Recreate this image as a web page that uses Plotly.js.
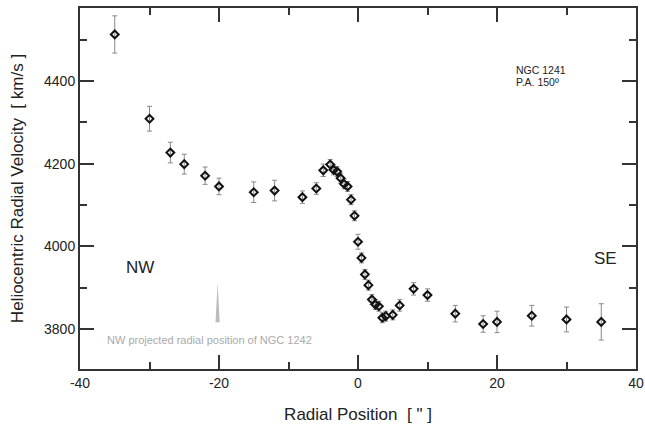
<!DOCTYPE html>
<html>
<head>
<meta charset="utf-8">
<script src="https://cdn.plot.ly/plotly-3.0.1.min.js"></script>
<style>html,body{margin:0;padding:0;background:#fff;}#chart{width:645px;height:433px;}</style>
</head>
<body>
<div id="chart"></div>
<script>
// Radial position (arcsec)
var radialPos = [-35, -30, -27, -25, -22, -20, -15, -12, -8, -6, -5, -4, -3.5, -3, -2.5, -2, -1.5, -1, -0.5, 0, 0.5, 1, 1.5, 2, 2.5, 3, 3.5, 4, 5, 6, 8, 10, 14, 18, 20, 25, 30, 35];
// Heliocentric radial velocity (km/s)
var velocity = [4513, 4309, 4227, 4199, 4171, 4145, 4131, 4135, 4119, 4140, 4184, 4198, 4185, 4181, 4165, 4151, 4145, 4113, 4074, 4011, 3972, 3932, 3906, 3871, 3859, 3855, 3827, 3831, 3834, 3857, 3897, 3882, 3837, 3812, 3817, 3832, 3823, 3817];
// Velocity errors (km/s)
var velErr = [45, 30, 25, 24, 21, 20, 25, 25, 15, 14, 15, 12, 12, 12, 12, 12, 12, 12, 12, 18, 12, 12, 12, 12, 12, 12, 12, 12, 12, 14, 15, 15, 20, 20, 26, 25, 30, 44];
// Tick labels
var xTickVals = [-40, -20, 0, 20, 40];
var xTickText = ['-40', '-20', '0', '20', '40'];
var xMinorVals = [-30, -10, 10, 30];
// NGC 1242 projected position marker
var ngc1242Pos = -20.2;
var ngc1242Spike = [3816, 3911];

var font = 'Liberation Sans, Arial, sans-serif';

var trace = {
  x: radialPos, y: velocity, type: 'scatter', mode: 'markers',
  marker: {symbol: 'diamond-open', size: 6, color: '#111', line: {width: 2, color: '#111'}},
  error_y: {type: 'data', array: velErr, visible: true, color: '#888', thickness: 1, width: 2.5},
  hoverinfo: 'x+y', showlegend: false
};

var layout = {
  width: 645, height: 433,
  margin: {l: 80, r: 9, t: 8, b: 64},
  paper_bgcolor: '#fff', plot_bgcolor: '#fff',
  font: {family: font, color: '#222'},
  xaxis: {
    range: [-40, 40], tickmode: 'array', tickvals: xTickVals, ticktext: xTickText,
    ticks: 'inside', ticklen: 14, tickwidth: 2, tickcolor: '#333',
    minor: {tickmode: 'array', tickvals: xMinorVals, ticks: 'inside', ticklen: 7, tickwidth: 2, tickcolor: '#333'},
    showline: true, linecolor: '#333', linewidth: 2, mirror: 'ticks',
    showgrid: false, zeroline: false,
    tickfont: {size: 14, family: font, color: '#222'},
    title: {text: 'Radial Position  [ " ]', font: {size: 17, family: font, color: '#222'}, standoff: 18}
  },
  yaxis: {
    range: [3703, 4577], dtick: 200, tick0: 0,
    ticks: 'inside', ticklen: 14, tickwidth: 2, tickcolor: '#333',
    minor: {dtick: 100, tick0: 0, ticks: 'inside', ticklen: 7, tickwidth: 2, tickcolor: '#333'},
    showline: true, linecolor: '#333', linewidth: 2, mirror: 'ticks',
    showgrid: false, zeroline: false,
    tickfont: {size: 14, family: font, color: '#222'},
    title: {text: 'Heliocentric Radial Velocity  [ km/s ]', font: {size: 17, family: font, color: '#222'}, standoff: 16}
  },
  shapes: [{
    type: 'path', xref: 'x', yref: 'y',
    path: 'M ' + (ngc1242Pos - 0.3) + ' ' + ngc1242Spike[0] + ' L ' + ngc1242Pos + ' ' + ngc1242Spike[1] + ' L ' + (ngc1242Pos + 0.3) + ' ' + ngc1242Spike[0] + ' Z',
    fillcolor: '#bbb', line: {width: 0}
  }],
  annotations: [
    {x: -31.4, y: 3948, xref: 'x', yref: 'y', text: 'NW', showarrow: false, font: {size: 17, family: font, color: '#222'}},
    {x: 35.6, y: 3970, xref: 'x', yref: 'y', text: 'SE', showarrow: false, font: {size: 17, family: font, color: '#222'}},
    {x: 22.5, y: 4426, xref: 'x', yref: 'y', xanchor: 'left', text: 'NGC 1241', showarrow: false, font: {size: 10.5, family: font, color: '#222'}},
    {x: 22.5, y: 4399, xref: 'x', yref: 'y', xanchor: 'left', text: 'P.A. 150º', showarrow: false, font: {size: 10.5, family: font, color: '#222'}},
    {x: -36.4, y: 3774, xref: 'x', yref: 'y', xanchor: 'left', text: 'NW projected radial position of NGC 1242', showarrow: false, font: {size: 11, family: font, color: '#aaa'}}
  ]
};

Plotly.newPlot('chart', [trace], layout, {displayModeBar: false, staticPlot: true});
</script>
</body>
</html>
